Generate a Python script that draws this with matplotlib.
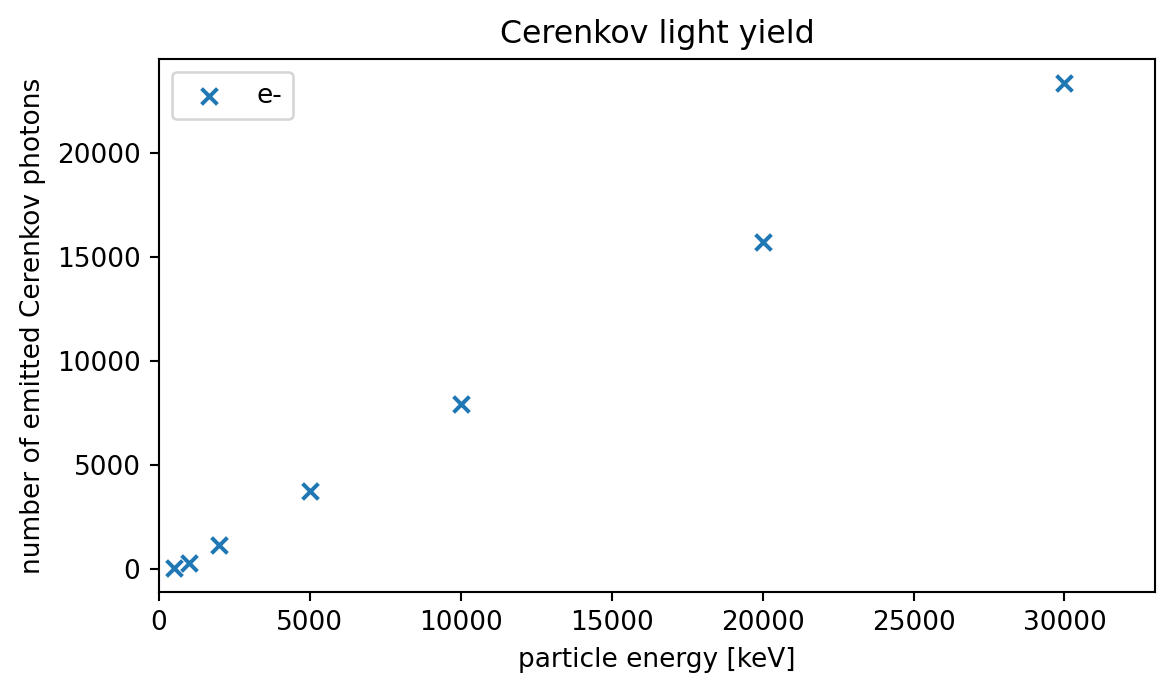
import numpy as np
import matplotlib
matplotlib.use("Agg")
import matplotlib.pyplot as plt

energies = [500, 1000, 2000, 5000, 10000, 20000, 30000]
photons = [80, 330, 1150, 3770, 7960, 15730, 23330]

fig = plt.figure(figsize=(1174 / 190, 694 / 190), dpi=190)
ax = fig.add_subplot(1, 1, 1)
ax.scatter(energies, photons, marker="x", label="e-")
ax.set_xlim(0, 33000)
ax.set_title("Cerenkov light yield")
ax.set_xlabel("particle energy [keV]")
ax.set_ylabel("number of emitted Cerenkov photons")
ax.legend(loc="upper left")
fig.subplots_adjust(left=0.1354, right=0.9838, top=0.915, bottom=0.147)
fig.savefig("out.png", dpi=190)
